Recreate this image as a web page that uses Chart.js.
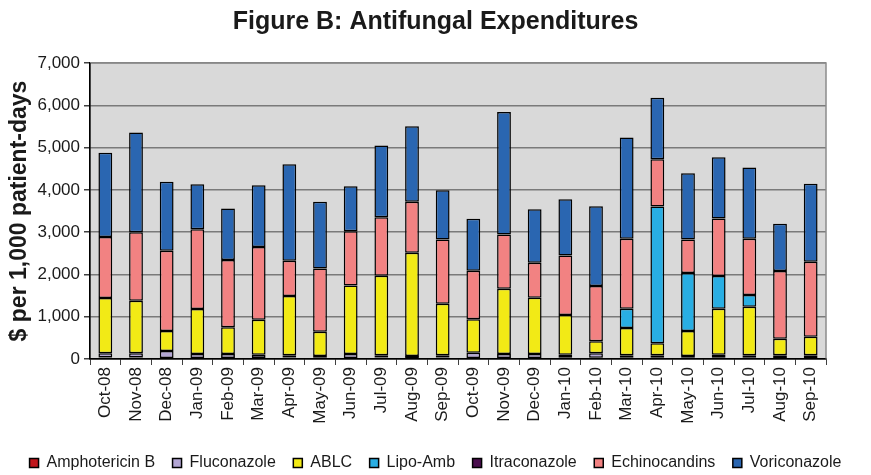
<!DOCTYPE html>
<html>
<head>
<meta charset="utf-8">
<script src="https://cdn.jsdelivr.net/npm/chart.js@4.4.0/dist/chart.umd.min.js"></script>
<style>
  html, body { margin: 0; padding: 0; background: #ffffff; }
  #wrap { width: 871px; height: 475px; position: relative; }
</style>
</head>
<body>
<div id="wrap"><canvas id="c" width="871" height="475"></canvas></div>
<script>
const months = ["Oct-08","Nov-08","Dec-08","Jan-09","Feb-09","Mar-09","Apr-09","May-09","Jun-09","Jul-09","Aug-09","Sep-09",
                "Oct-09","Nov-09","Dec-09","Jan-10","Feb-10","Mar-10","Apr-10","May-10","Jun-10","Jul-10","Aug-10","Sep-10"];

const amphotericinB = [20,20,15,15,15,15,10,10,15,10,10,10,15,15,15,10,15,10,10,10,10,10,10,10];
const itraconazole  = [15,15,10,10,10,10,25,30,10,25,35,25,10,10,10,30,15,20,20,30,20,20,15,15];
const fluconazole   = [100,100,165,93,93,77,52,31,93,52,25,52,125,93,93,62,105,57,57,31,72,57,62,62];
const ablc          = [1310,1245,472,1063,632,828,1401,575,1623,1881,2442,1220,788,1544,1331,938,283,648,283,591,1087,1150,393,441];
const lipoAmb       = [0,0,0,0,0,0,0,0,0,0,0,0,0,0,0,0,0,454,3237,1369,772,275,0,0];
const echinocandins = [1441,1615,1897,1890,1589,1716,835,1496,1283,1387,1205,1520,1149,1283,827,1409,1306,1654,1118,796,1362,1331,1599,1772];
const voriconazole  = [1993,2362,1630,1063,1221,1464,2284,1575,1063,1693,1787,1166,1228,2898,1268,1331,1890,2393,1456,1567,1449,1685,1118,1842];

const yTicks = [0,1000,2000,3000,4000,5000,6000,7000];
const legendOrder = ['Amphotericin B','Fluconazole','ABLC','Lipo-Amb','Itraconazole','Echinocandins','Voriconazole'];

const FONT = "'Liberation Sans', Arial, Helvetica, sans-serif";

function ds(label, data, color) {
  return {
    label, data,
    backgroundColor: color,
    borderColor: '#000000',
    borderWidth: 1.5,
    borderSkipped: false,
    stack: 's',
    yAxisID: 'y'
  };
}

const plotBg = {
  id: 'plotBg',
  beforeDraw(chart) {
    const {ctx, chartArea: a} = chart;
    ctx.save();
    ctx.fillStyle = '#D9D9D9';
    ctx.fillRect(a.left, a.top, a.right - a.left, a.bottom - a.top);
    ctx.restore();
  },
  afterDatasetsDraw(chart) {
    const {ctx, chartArea: a} = chart;
    ctx.save();
    ctx.strokeStyle = '#8C8C8C';
    ctx.lineWidth = 1.5;
    ctx.beginPath();
    ctx.moveTo(a.left, a.top);
    ctx.lineTo(a.right, a.top);
    ctx.lineTo(a.right, a.bottom);
    ctx.stroke();
    ctx.strokeStyle = '#000000';
    ctx.lineWidth = 1.2;
    ctx.beginPath();
    ctx.moveTo(a.left, a.top);
    ctx.lineTo(a.left, a.bottom);
    ctx.lineTo(a.right, a.bottom);
    ctx.stroke();
    ctx.restore();
  }
};

new Chart(document.getElementById('c'), {
  type: 'bar',
  data: {
    labels: months,
    datasets: [
      ds('Amphotericin B', amphotericinB, '#C0161C'),
      ds('Itraconazole', itraconazole, '#4A0E4E'),
      ds('Fluconazole', fluconazole, '#B3A6D4'),
      ds('ABLC', ablc, '#F2EA16'),
      ds('Lipo-Amb', lipoAmb, '#29AEE3'),
      ds('Echinocandins', echinocandins, '#F28282'),
      ds('Voriconazole', voriconazole, '#2A66B1')
    ]
  },
  options: {
    responsive: false,
    animation: false,
    devicePixelRatio: 1,
    layout: { padding: { left: 0, right: 0, top: 0, bottom: -6 } },
    datasets: { bar: { categoryPercentage: 1.0, barPercentage: 0.45 } },
    plugins: {
      title: {
        display: true,
        text: 'Figure B: Antifungal Expenditures',
        color: '#1a1a1a',
        font: { family: FONT, size: 25, weight: 'bold' },
        padding: { top: 7, bottom: 26 }
      },
      legend: {
        position: 'bottom',
        align: 'center',
        labels: {
          color: '#1a1a1a',
          font: { family: FONT, size: 16 },
          boxWidth: 9,
          boxHeight: 9,
          padding: 17.5,
          sort: (a, b) => legendOrder.indexOf(a.text) - legendOrder.indexOf(b.text),
          generateLabels(chart) {
            return chart.data.datasets.map((d, i) => ({
              text: d.label,
              fillStyle: d.backgroundColor,
              strokeStyle: '#000000',
              lineWidth: 1.5,
              hidden: false,
              datasetIndex: i,
              fontColor: '#1a1a1a'
            }));
          }
        }
      },
      tooltip: { enabled: false }
    },
    scales: {
      x: {
        stacked: true,
        offset: true,
        grid: {
          display: true,
          offset: true,
          drawOnChartArea: false,
          drawTicks: true,
          tickLength: 6,
          color: '#404040',
          lineWidth: 1
        },
        border: { display: true, color: '#000000', width: 1.2 },
        ticks: {
          autoSkip: false,
          minRotation: 90,
          maxRotation: 90,
          color: '#1a1a1a',
          padding: 2,
          font: { family: FONT, size: 17 }
        },
        afterFit(s) { s.height = 78.5; }
      },
      y: {
        stacked: true,
        min: 0,
        max: 7000,
        afterBuildTicks(s) { s.ticks = yTicks.map(v => ({ value: v })); },
        grid: {
          color: '#7A7A7A',
          lineWidth: 1.5,
          drawTicks: true,
          tickLength: 6,
          tickColor: '#404040'
        },
        border: { display: true, color: '#000000', width: 1.2 },
        ticks: {
          color: '#1a1a1a',
          padding: 4,
          font: { family: FONT, size: 17 },
          callback: v => Number(v).toLocaleString('en-US')
        },
        title: {
          display: true,
          text: '$ per 1,000 patient-days',
          color: '#1a1a1a',
          font: { family: FONT, size: 23, weight: 'bold' },
          padding: { top: 6, bottom: 0 }
        },
        afterFit(s) { s.width = 90; }
      },
      yRight: {
        position: 'right',
        display: true,
        grid: { display: false, drawTicks: false },
        border: { display: false },
        ticks: { display: false },
        afterFit(s) { s.width = 45; }
      }
    }
  },
  plugins: [plotBg]
});
</script>
</body>
</html>
